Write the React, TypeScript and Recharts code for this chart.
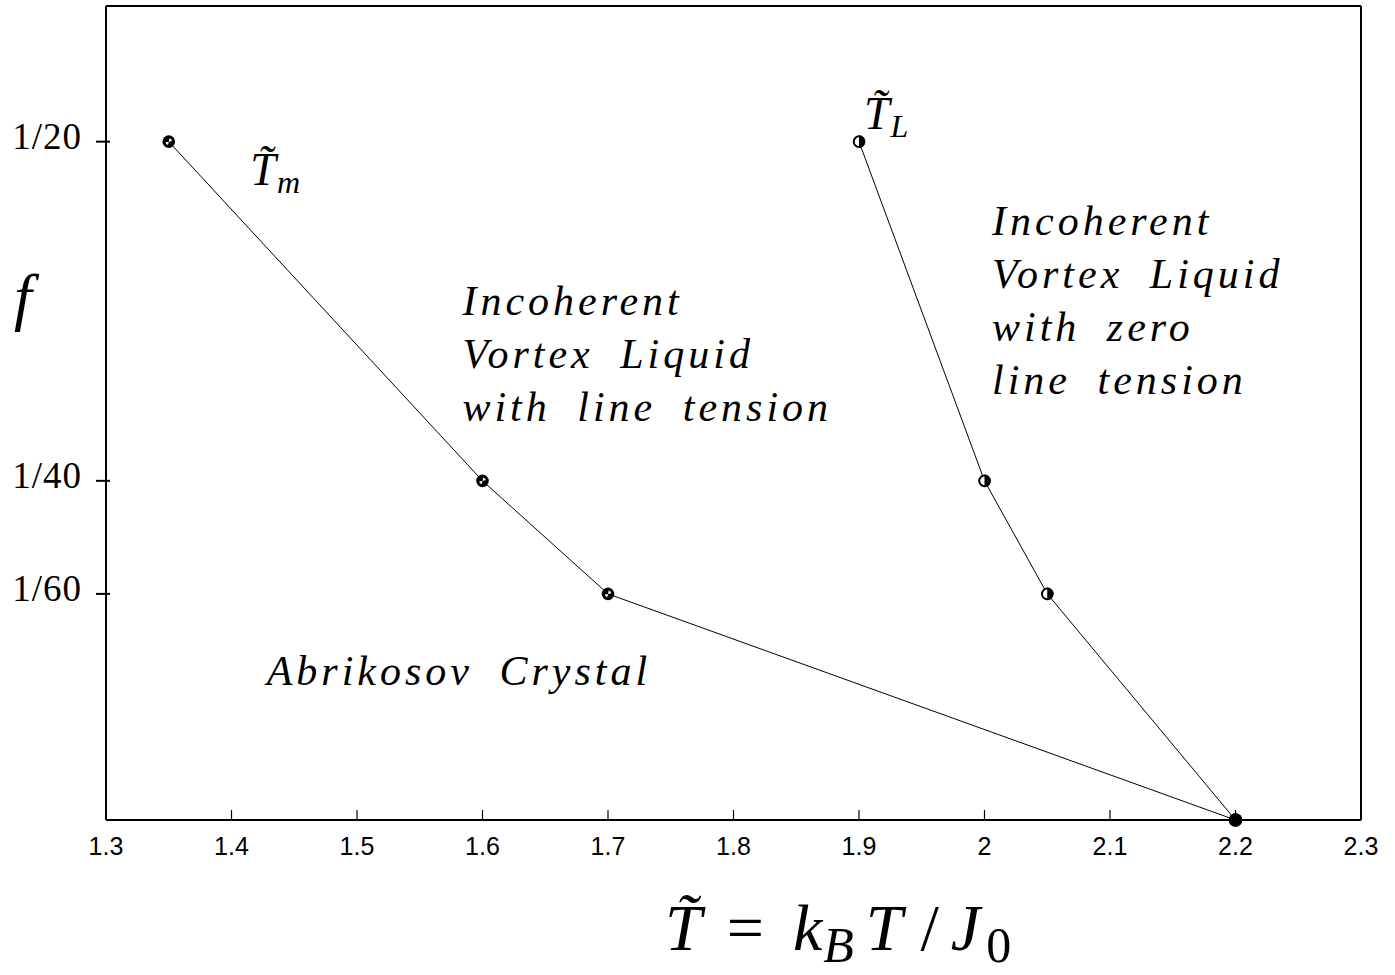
import React from "react";
import { LineChart, Line, XAxis, YAxis, ReferenceDot } from "recharts";

// Melting line T_m (f vs T)
const tmT = [1.35, 1.6, 1.7, 2.2];
const tmF = [1 / 20, 1 / 40, 1 / 60, 0];
// Line-tension line T_L
const tlT = [1.9, 2.0, 2.05, 2.2];
const tlF = [1 / 20, 1 / 40, 1 / 60, 0];

const xTicks = [1.3, 1.4, 1.5, 1.6, 1.7, 1.8, 1.9, 2, 2.1, 2.2, 2.3];
const yTicks = [1 / 60, 1 / 40, 1 / 20];
const yTickLabels = ["1/60", "1/40", "1/20"];

const tmData = tmT.map((t, i) => ({ t, f: tmF[i] }));
const tlData = tlT.map((t, i) => ({ t, f: tlF[i] }));

const SERIF = "'Liberation Serif', 'DejaVu Serif', serif";
const SANS = "'Liberation Sans', Arial, sans-serif";

const BottomTick = (props: any) => {
  const { x, y, payload } = props;
  return (
    <g>
      <line x1={x} x2={x} y1={y} y2={y - 10} stroke="#000" strokeWidth={1.2} />
      <text x={x} y={y + 35} textAnchor="middle" fontFamily={SANS} fontSize={25} fill="#000">
        {String(payload.value)}
      </text>
    </g>
  );
};

const TopTick = (props: any) => {
  const { x, y } = props;
  return <line x1={x} x2={x} y1={y} y2={y + 10} stroke="#000" strokeWidth={1.2} />;
};

const LeftTick = (props: any) => {
  const { x, y, payload } = props;
  const idx = yTicks.findIndex((v) => Math.abs(v - payload.value) < 1e-9);
  return (
    <g>
      <line x1={x - 10} x2={x + 4} y1={y} y2={y} stroke="#000" strokeWidth={2} />
      <text x={x - 24} y={y + 7} textAnchor="end" fontFamily={SERIF} fontSize={37} letterSpacing={1} fill="#000">
        {idx >= 0 ? yTickLabels[idx] : ""}
      </text>
    </g>
  );
};

const wedge = (cx: number, cy: number, r: number, a0: number, a1: number) => {
  const x0 = cx + r * Math.cos(a0);
  const y0 = cy + r * Math.sin(a0);
  const x1 = cx + r * Math.cos(a1);
  const y1 = cy + r * Math.sin(a1);
  return `M${cx},${cy} L${x0},${y0} A${r},${r} 0 0 1 ${x1},${y1} Z`;
};

const TmDot = (props: any) => {
  const { cx, cy, payload, index } = props;
  if (cx == null || cy == null) return <g key={`tm-${index}`} />;
  if (payload.f === 0) {
    return <circle key={`tm-${index}`} cx={cx} cy={cy} r={6.7} fill="#000" stroke="none" />;
  }
  return (
    <g key={`tm-${index}`}>
      <circle cx={cx} cy={cy} r={6.3} fill="#000" stroke="none" />
      <path d={wedge(cx, cy, 3.4, -Math.PI / 2 + 0.2, -0.2)} fill="#fff" />
      <path d={wedge(cx, cy, 3.4, Math.PI / 2 + 0.2, Math.PI - 0.2)} fill="#fff" />
    </g>
  );
};

const TlDot = (props: any) => {
  const { cx, cy, payload, index } = props;
  if (cx == null || cy == null) return <g key={`tl-${index}`} />;
  if (payload.f === 0) {
    return <circle key={`tl-${index}`} cx={cx} cy={cy} r={6.7} fill="#000" stroke="none" />;
  }
  return (
    <g key={`tl-${index}`}>
      <circle cx={cx} cy={cy} r={5.3} fill="#fff" stroke="#000" strokeWidth={2} />
      <path d={`M${cx},${cy - 6.3} A6.3,6.3 0 0 1 ${cx},${cy + 6.3} Z`} fill="#000" />
    </g>
  );
};

const textLines = (lines: string[], lineGap: number) => (p: any) => {
  const vb = p.viewBox || {};
  return (
    <text
      x={vb.x}
      y={vb.y}
      fontFamily={SERIF}
      fontStyle="italic"
      fontSize={42}
      letterSpacing={4}
      wordSpacing={12}
      fill="#000"
    >
      {lines.map((l, i) => (
        <tspan key={i} x={vb.x} dy={i === 0 ? 0 : lineGap}>
          {l}
        </tspan>
      ))}
    </text>
  );
};

const TLabel = (sub: string) => (p: any) => {
  const vb = p.viewBox || {};
  return (
    <text x={vb.x} y={vb.y} fontFamily={SERIF} fontSize={46} fill="#000">
      <tspan fontStyle="italic">{"T\u0303"}</tspan>
      <tspan fontStyle="italic" fontSize={32} dy={8} dx={1}>
        {sub}
      </tspan>
    </text>
  );
};

const XTitle = (p: any) => {
  const vb = p.viewBox || {};
  const x = vb.x + 559;
  const y = vb.y + 130;
  return (
    <text x={x} y={y} fontFamily={SERIF} fontSize={66} fill="#000">
      <tspan fontStyle="italic">{"T\u0303"}</tspan>
      <tspan dx={25}>=</tspan>
      <tspan fontStyle="italic" dx={29}>k</tspan>
      <tspan fontStyle="italic" fontSize={50} dy={12} dx={1}>
        B
      </tspan>
      <tspan fontStyle="italic" dy={-12} dx={12}>
        T
      </tspan>
      <tspan dx={18}>/</tspan>
      <tspan fontStyle="italic" dx={12}>J</tspan>
      <tspan fontSize={50} dy={12} dx={6}>
        0
      </tspan>
    </text>
  );
};

const YTitle = (p: any) => {
  const vb = p.viewBox || {};
  return (
    <text x={vb.x + 14} y={vb.y + 312} fontFamily={SERIF} fontStyle="italic" fontSize={64} fill="#000">
      f
    </text>
  );
};

export default function App() {
  return (
    <div style={{ position: "absolute", left: 0, top: 0, background: "#fff" }}>
      <LineChart width={1395} height={975} margin={{ top: 5, right: 33, bottom: 0, left: 0 }}>
        <XAxis
          xAxisId="b"
          dataKey="t"
          type="number"
          domain={[1.3, 2.3]}
          ticks={xTicks}
          interval={0}
          height={155}
          tickSize={0}
          tickMargin={0}
          tickLine={false}
          tick={<BottomTick />}
          axisLine={{ stroke: "#000", strokeWidth: 2 }}
          label={<XTitle />}
        />
        <XAxis
          xAxisId="top"
          orientation="top"
          dataKey="t"
          type="number"
          domain={[1.3, 2.3]}
          ticks={xTicks}
          interval={0}
          height={1}
          tickSize={0}
          tickMargin={0}
          tickLine={false}
          tick={<TopTick />}
          axisLine={{ stroke: "#000", strokeWidth: 2 }}
        />
        <YAxis
          yAxisId="l"
          dataKey="f"
          type="number"
          domain={[0, 0.06]}
          ticks={yTicks}
          interval={0}
          width={106}
          tickSize={0}
          tickMargin={0}
          tickLine={false}
          tick={<LeftTick />}
          axisLine={{ stroke: "#000", strokeWidth: 2 }}
          label={<YTitle />}
        />
        <YAxis
          yAxisId="r"
          orientation="right"
          type="number"
          domain={[0, 0.06]}
          width={1}
          tick={false}
          tickLine={false}
          axisLine={{ stroke: "#000", strokeWidth: 2 }}
        />
        <Line
          xAxisId="b"
          yAxisId="l"
          data={tmData}
          dataKey="f"
          type="linear"
          stroke="#000"
          strokeWidth={1}
          dot={(p: any) => <TmDot {...p} />}
          activeDot={false}
          isAnimationActive={false}
        />
        <Line
          xAxisId="b"
          yAxisId="l"
          data={tlData}
          dataKey="f"
          type="linear"
          stroke="#000"
          strokeWidth={1}
          dot={(p: any) => <TlDot {...p} />}
          activeDot={false}
          isAnimationActive={false}
        />
        <ReferenceDot xAxisId="b" yAxisId="l" x={1.415} y={0.0468} r={0} fill="none" stroke="none" label={TLabel("m")} />
        <ReferenceDot xAxisId="b" yAxisId="l" x={1.904} y={0.0509} r={0} fill="none" stroke="none" label={TLabel("L")} />
        <ReferenceDot
          xAxisId="b"
          yAxisId="l"
          x={1.584}
          y={0.0372}
          r={0}
          fill="none"
          stroke="none"
          label={textLines(["Incoherent", "Vortex Liquid", "with line tension"], 53)}
        />
        <ReferenceDot
          xAxisId="b"
          yAxisId="l"
          x={2.006}
          y={0.0431}
          r={0}
          fill="none"
          stroke="none"
          label={textLines(["Incoherent", "Vortex Liquid", "with zero", "line tension"], 53)}
        />
        <ReferenceDot
          xAxisId="b"
          yAxisId="l"
          x={1.428}
          y={0.00995}
          r={0}
          fill="none"
          stroke="none"
          label={textLines(["Abrikosov Crystal"], 53)}
        />
      </LineChart>
    </div>
  );
}
